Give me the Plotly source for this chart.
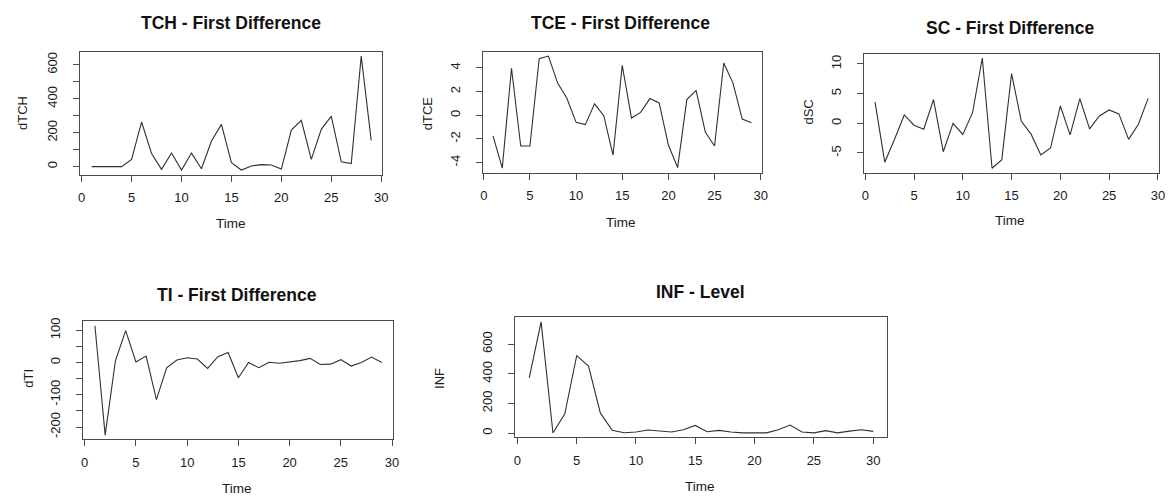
import plotly.graph_objects as go

W, H = 1173, 496

# ---------------- data ----------------
time_29 = list(range(1, 30))
time_30 = list(range(1, 31))

d_tch = [0, 0, 0, 0, 43, 263, 78, -16, 80, -20, 80, -12, 151, 249, 24, -20, 4, 12,
         10, -14, 216, 273, 43, 220, 298, 29, 18, 651, 155]
d_tce = [-1.74, -4.47, 3.97, -2.6, -2.6, 4.78, 5.0, 2.72, 1.43, -0.6, -0.79, 0.96,
         -0.04, -3.36, 4.22, -0.24, 0.24, 1.41, 1.04, -2.52, -4.42, 1.32, 2.1,
         -1.41, -2.6, 4.42, 2.72, -0.32, -0.63]
d_sc = [3.6, -6.55, -2.7, 1.41, -0.32, -0.99, 4.0, -4.79, 0.0, -1.88, 1.8, 11.0,
        -7.57, -6.12, 8.38, 0.35, -1.83, -5.34, -4.17, 2.92, -1.94, 4.14, -0.93,
        1.24, 2.25, 1.58, -2.71, -0.15, 4.2]
d_ti = [114, -225, 5, 99, 2, 20, -115, -16, 8, 15, 11, -18, 18, 31, -47, 0, -16,
        1, -2, 1, 6, 13, -6, -5, 9, -11, 0, 17, 0]
inf_level = [372, 750, 0, 130, 522, 452, 134, 18, 2, 7, 20, 16, 7, 22, 51, 9, 18,
             7, 1, 1, 1, 22, 54, 7, 1, 16, 1, 13, 22, 11]

titles = ["TCH - First Difference", "TCE - First Difference", "SC - First Difference",
          "TI - First Difference", "INF - Level"]
ylabels = ["dTCH", "dTCE", "dSC", "dTI", "INF"]
xlabel = "Time"

x_ticks = [0, 5, 10, 15, 20, 25, 30]
y_ticks = [
    [0, 100, 200, 300, 400, 500, 600],
    [-4, -2, 0, 2, 4],
    [-5, 0, 5, 10],
    [-200, -150, -100, -50, 0, 50, 100],
    [0, 200, 400, 600],
]
y_ticktext = [
    ["0", "", "200", "", "400", "", "600"],
    ["-4", "-2", "0", "2", "4"],
    ["-5", "0", "5", "10"],
    ["-200", "", "-100", "", "0", "", "100"],
    ["0", "200", "400", "600"],
]

series = [(time_29, d_tch), (time_29, d_tce), (time_29, d_sc), (time_29, d_ti), (time_30, inf_level)]

# ---------------- layout geometry (pixels) ----------------
boxes = [  # x0, x1, y0(top), y1(bottom)
    (79, 383, 48, 172),
    (484, 765, 48, 170),
    (868, 1165, 50, 170),
    (82, 394, 320, 439),
    (517, 891, 316, 437),
]
title_pos = [(231, 19), (623, 19), (1015, 24), (237, 293), (703, 290)]
xlab_pos = [(231, 221), (623, 220), (1015, 218), (237, 488), (703, 486)]
ylab_pos = [(20, 110), (428, 110), (812, 109), (27, 377), (441, 377)]

FONT = "Liberation Sans, Arial, Helvetica, sans-serif"
LINE = "#4a4a4a"

fig = go.Figure()
annotations = []

for i, ((xs, ys), box) in enumerate(zip(series, boxes)):
    n = "" if i == 0 else str(i + 1)
    fig.add_trace(go.Scatter(x=xs, y=ys, mode="lines", xaxis="x" + n, yaxis="y" + n,
                             line=dict(color="#303030", width=1.1), showlegend=False,
                             hoverinfo="x+y"))
    x0, x1, yt, yb = box
    xmin, xmax = min(xs), max(xs)
    xpad = 0.04 * (xmax - xmin)
    ymin, ymax = min(ys), max(ys)
    ypad = 0.04 * (ymax - ymin)
    common = dict(showline=True, linecolor=LINE, linewidth=1, mirror=True,
                  ticks="outside", ticklen=6, tickcolor=LINE, tickwidth=1,
                  showgrid=False, zeroline=False,
                  tickfont=dict(family=FONT, size=13, color="#1a1a1a"))
    fig.update_layout(**{
        "xaxis" + n: dict(domain=[x0 / W, x1 / W], anchor="y" + n,
                          range=[xmin - xpad, xmax + xpad],
                          tickvals=x_ticks, ticktext=[str(v) for v in x_ticks],
                          ticklabelstandoff=5, **common),
        "yaxis" + n: dict(domain=[1 - yb / H, 1 - yt / H], anchor="x" + n,
                          range=[ymin - ypad, ymax + ypad],
                          tickvals=y_ticks[i], ticktext=y_ticktext[i],
                          tickangle=-90, ticklabelstandoff=11, **common),
    })
    tx, ty = title_pos[i]
    annotations.append(dict(text="<b>%s</b>" % titles[i], x=tx / W, y=1 - ty / H,
                            xref="paper", yref="paper", showarrow=False,
                            xanchor="center", yanchor="middle",
                            font=dict(family=FONT, size=17.5, color="#111111")))
    lx, ly = xlab_pos[i]
    annotations.append(dict(text=xlabel, x=lx / W, y=1 - ly / H, xref="paper", yref="paper",
                            showarrow=False, xanchor="center", yanchor="middle",
                            font=dict(family=FONT, size=13.5, color="#1a1a1a")))
    yx, yy = ylab_pos[i]
    annotations.append(dict(text=ylabels[i], x=yx / W, y=1 - yy / H, xref="paper", yref="paper",
                            showarrow=False, xanchor="center", yanchor="middle", textangle=-90,
                            font=dict(family=FONT, size=13, color="#1a1a1a")))

fig.update_layout(width=W, height=H, margin=dict(l=0, r=0, t=0, b=0),
                  paper_bgcolor="white", plot_bgcolor="white",
                  annotations=annotations, showlegend=False)

fig.write_html("out.html", config={"displayModeBar": False},
               post_script="document.body.style.margin='0';document.body.style.overflow='hidden';")
